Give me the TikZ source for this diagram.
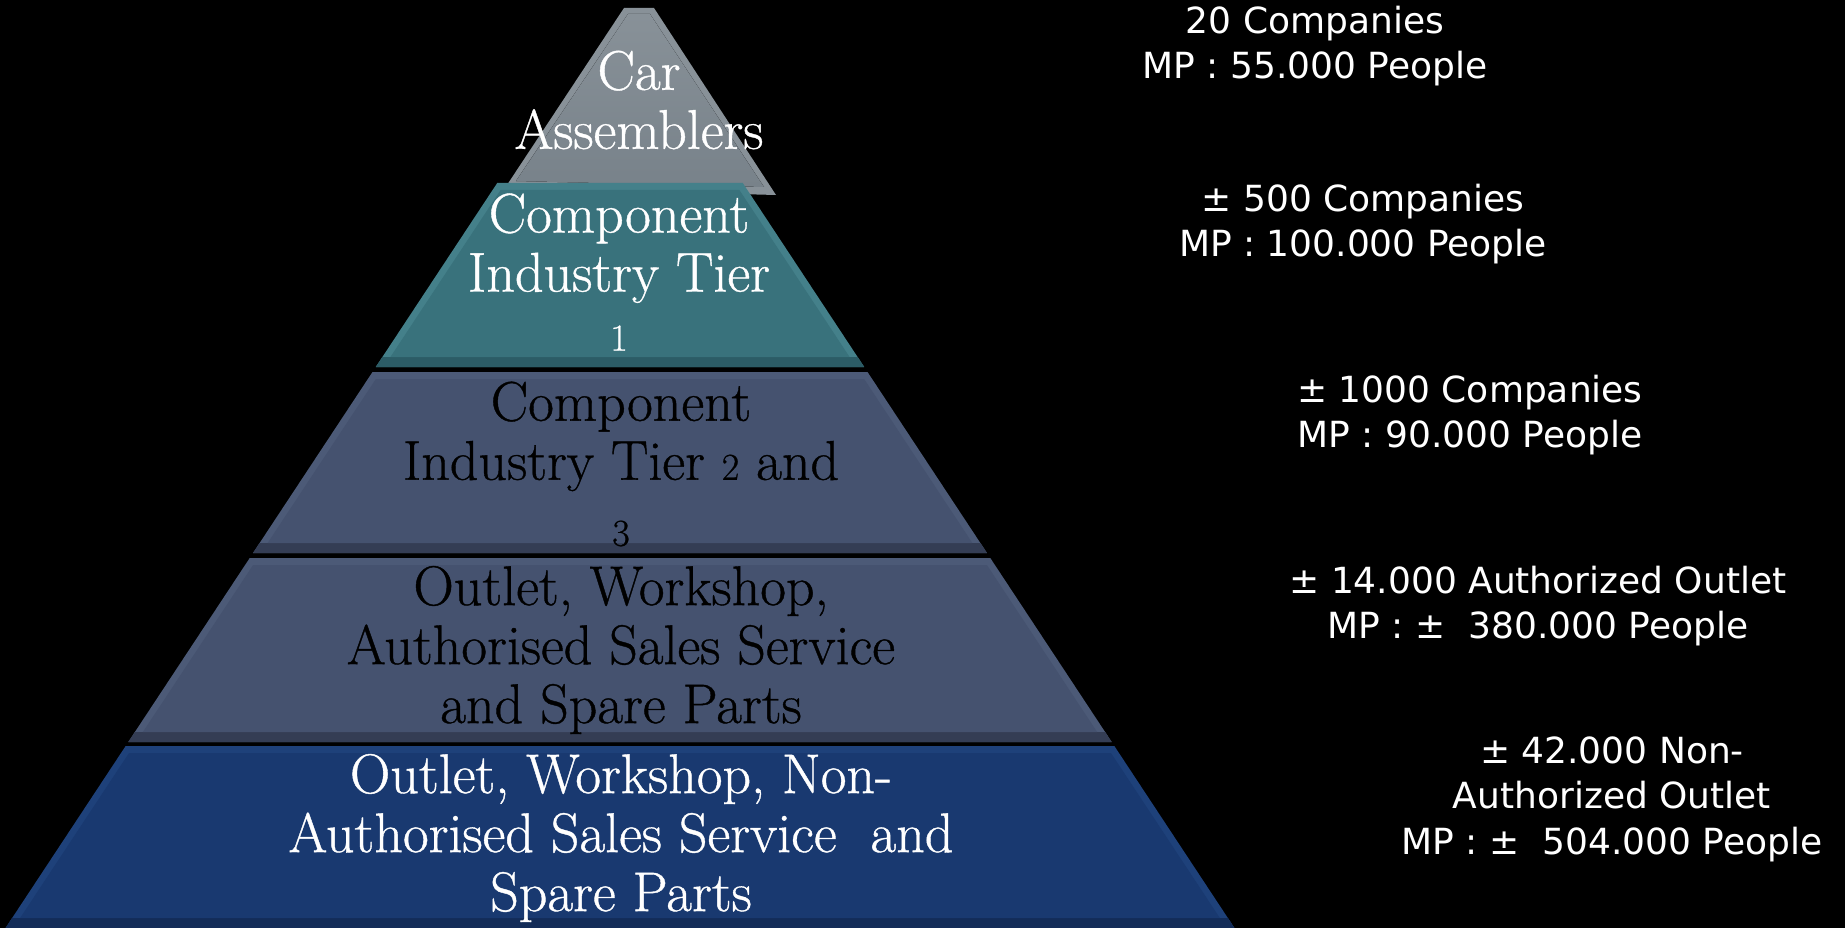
\documentclass[tikz,border=0pt]{standalone}
\usepackage{fontspec}
\newfontfamily\sidefont{DejaVu Sans}
\newfontfamily\pyrfont{Latin Modern Roman}[FakeBold=0.7]
\newcommand{\osn}[1]{{\fontsize{38}{59}\selectfont #1}}
\newcommand{\osnd}[1]{\raisebox{-7pt}{\fontsize{38}{59}\selectfont #1}}
\definecolor{greyM}{RGB}{120,130,138}
\definecolor{greyL}{RGB}{136,145,152}
\definecolor{tealM}{RGB}{57,114,124}
\definecolor{tealL}{RGB}{68,128,138}
\definecolor{tealD}{RGB}{44,92,102}
\definecolor{slateM}{RGB}{69,82,111}
\definecolor{slateL}{RGB}{76,90,119}
\definecolor{slateD}{RGB}{52,61,84}
\definecolor{blueM}{RGB}{25,57,112}
\definecolor{blueL}{RGB}{30,65,122}
\definecolor{blueD}{RGB}{19,44,88}
% #1 top y, #2 bottom y, #3 main, #4 light edge, #5 dark bottom
\newcommand{\pyrlayer}[5]{%
  \pgfmathsetmacro{\pyHT}{0.66*(#1+3)}%
  \pgfmathsetmacro{\pyHB}{0.66*(#2+3)}%
  \pgfmathsetmacro{\pyYb}{#2-10}%
  \pgfmathsetmacro{\pyHb}{0.66*(\pyYb+3)}%
  \pgfmathsetmacro{\pyYt}{#1+7}%
  \pgfmathsetmacro{\pyHt}{0.66*(\pyYt+3)-8}%
  \pgfmathsetmacro{\pyHi}{\pyHb-8}%
  \fill[#4] ({620-\pyHT},#1) -- ({620+\pyHT},#1) -- ({620+\pyHB},#2) -- ({620-\pyHB},#2) -- cycle;
  \fill[#5] ({620-\pyHb},\pyYb) -- ({620+\pyHb},\pyYb) -- ({620+\pyHB},#2) -- ({620-\pyHB},#2) -- cycle;
  \fill[#3] ({620-\pyHt},\pyYt) -- ({620+\pyHt},\pyYt) -- ({620+\pyHi},\pyYb) -- ({620-\pyHi},\pyYb) -- cycle;
}
\tikzset{
  pyrtxt/.style={font=\pyrfont\fontsize{56}{59}\selectfont, align=center, inner sep=0pt},
  sidetxt/.style={font=\sidefont\fontsize{36}{45.5}\selectfont, text=white, align=center, inner sep=0pt}
}
\begin{document}
\begin{tikzpicture}[x=1pt,y=-1pt]
\fill[black] (0,0) rectangle (1845,928);
\useasboundingbox (0,0) rectangle (1845,928);
% top grey piece
\fill[greyL] (624,8) -- (654,8) -- (776,195) -- (505,188) -- cycle;
\fill[top color=greyL, bottom color=greyM] (628,14) -- (650,14) -- (764,187) -- (516,181) -- cycle;
% layers
\pyrlayer{183}{367}{tealM}{tealL}{tealD}
\pyrlayer{372}{553}{slateM}{slateL}{slateD}
\pyrlayer{558}{742}{slateM}{slateL}{slateD}
\pyrlayer{746}{928}{blueM}{blueL}{blueD}
% pyramid texts
\node[pyrtxt, text=white] (car) at (639,100) {Car\\Assemblers};
\node[pyrtxt, text=white] (tier1) at (619,272) {Component\\Industry Tier\\\osn{1}};
\node[pyrtxt, text=black] (tier2) at (621,464) {Component\\Industry Tier \osn{2} and\\\osnd{3}};
\node[pyrtxt, text=black] (auth) at (621,650) {Outlet, Workshop,\\Authorised Sales Service\\and Spare Parts};
\node[pyrtxt, text=white] (nonauth) at (621,838) {Outlet, Workshop, Non-\\Authorised Sales Service~ and\\Spare Parts};
% side texts
\node[sidetxt] (s1) at (1315,46) {20 Companies\\MP : 55.000 People};
\node[sidetxt] (s2) at (1363,224) {± 500 Companies\\MP : 100.000 People};
\node[sidetxt] (s3) at (1470,415) {± 1000 Companies\\MP : 90.000 People};
\node[sidetxt] (s4) at (1538,606) {± 14.000 Authorized Outlet\\MP : ±~ 380.000 People};
\node[sidetxt] (s5) at (1612,799) {± 42.000 Non-\\Authorized Outlet\\MP : ±~ 504.000 People};
\end{tikzpicture}
\end{document}
